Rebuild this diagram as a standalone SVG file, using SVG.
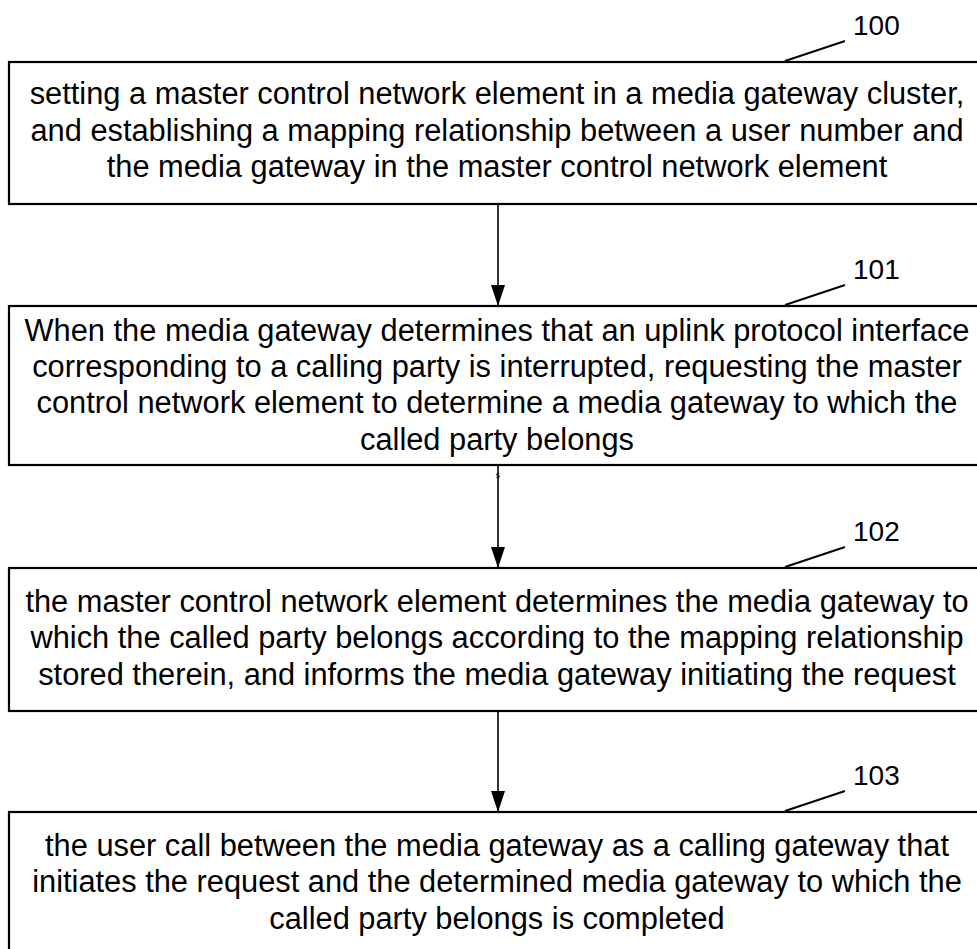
<svg xmlns="http://www.w3.org/2000/svg" width="977" height="949" viewBox="0 0 977 949">
<defs>
<style>
.box{fill:#fff;stroke:#000;stroke-width:2.2}
.t{font-family:"Liberation Sans",Arial,sans-serif;font-size:30.8px;fill:#000;text-anchor:middle}
.lbl{font-family:"Liberation Sans",Arial,sans-serif;font-size:28px;fill:#000}
.lead{stroke:#000;stroke-width:2;fill:none}
.conn{stroke:#000;stroke-width:1.6;fill:none}
</style>
<marker id="ah" markerWidth="21" markerHeight="14" refX="21" refY="7" orient="auto" markerUnits="userSpaceOnUse" viewBox="0 0 21 14">
<path d="M0,0 L21,7 L0,14 Z" fill="#000"/>
</marker>
</defs>
<rect width="977" height="949" fill="#fff"/>
<g id="connectors">
<line class="conn" x1="498" y1="204" x2="498" y2="306" marker-end="url(#ah)"/>
<line class="conn" x1="498" y1="465" x2="498" y2="568" marker-end="url(#ah)"/>
<line class="conn" x1="498" y1="711" x2="498" y2="812" marker-end="url(#ah)"/>
<text x="498" y="478" font-family="Liberation Serif,serif" font-size="11" text-anchor="middle">s</text>
</g>
<g id="n100">
<rect class="box" x="9" y="62" width="975" height="142"/>
<text class="t" x="497" y="104">setting a master control network element in a media gateway cluster,</text>
<text class="t" x="497" y="141">and establishing a mapping relationship between a user number and</text>
<text class="t" x="497" y="177">the media gateway in the master control network element</text>
<line class="lead" x1="785" y1="61" x2="845" y2="41"/>
<text class="lbl" x="853" y="35">100</text>
</g>
<g id="n101">
<rect class="box" x="9" y="306" width="975" height="159"/>
<text class="t" x="497" y="341">When the media gateway determines that an uplink protocol interface</text>
<text class="t" x="497" y="377">corresponding to a calling party is interrupted, requesting the master</text>
<text class="t" x="497" y="413">control network element to determine a media gateway to which the</text>
<text class="t" x="497" y="450">called party belongs</text>
<line class="lead" x1="785" y1="305" x2="845" y2="285"/>
<text class="lbl" x="853" y="279">101</text>
</g>
<g id="n102">
<rect class="box" x="9" y="568" width="975" height="143"/>
<text class="t" x="497" y="612">the master control network element determines the media gateway to</text>
<text class="t" x="497" y="648">which the called party belongs according to the mapping relationship</text>
<text class="t" x="497" y="685">stored therein, and informs the media gateway initiating the request</text>
<line class="lead" x1="785" y1="567" x2="845" y2="547"/>
<text class="lbl" x="853" y="541">102</text>
</g>
<g id="n103">
<rect class="box" x="9" y="812" width="975" height="150"/>
<text class="t" x="497" y="856">the user call between the media gateway as a calling gateway that</text>
<text class="t" x="497" y="892">initiates the request and the determined media gateway to which the</text>
<text class="t" x="497" y="929">called party belongs is completed</text>
<line class="lead" x1="785" y1="811" x2="845" y2="791"/>
<text class="lbl" x="853" y="785">103</text>
</g>
</svg>
